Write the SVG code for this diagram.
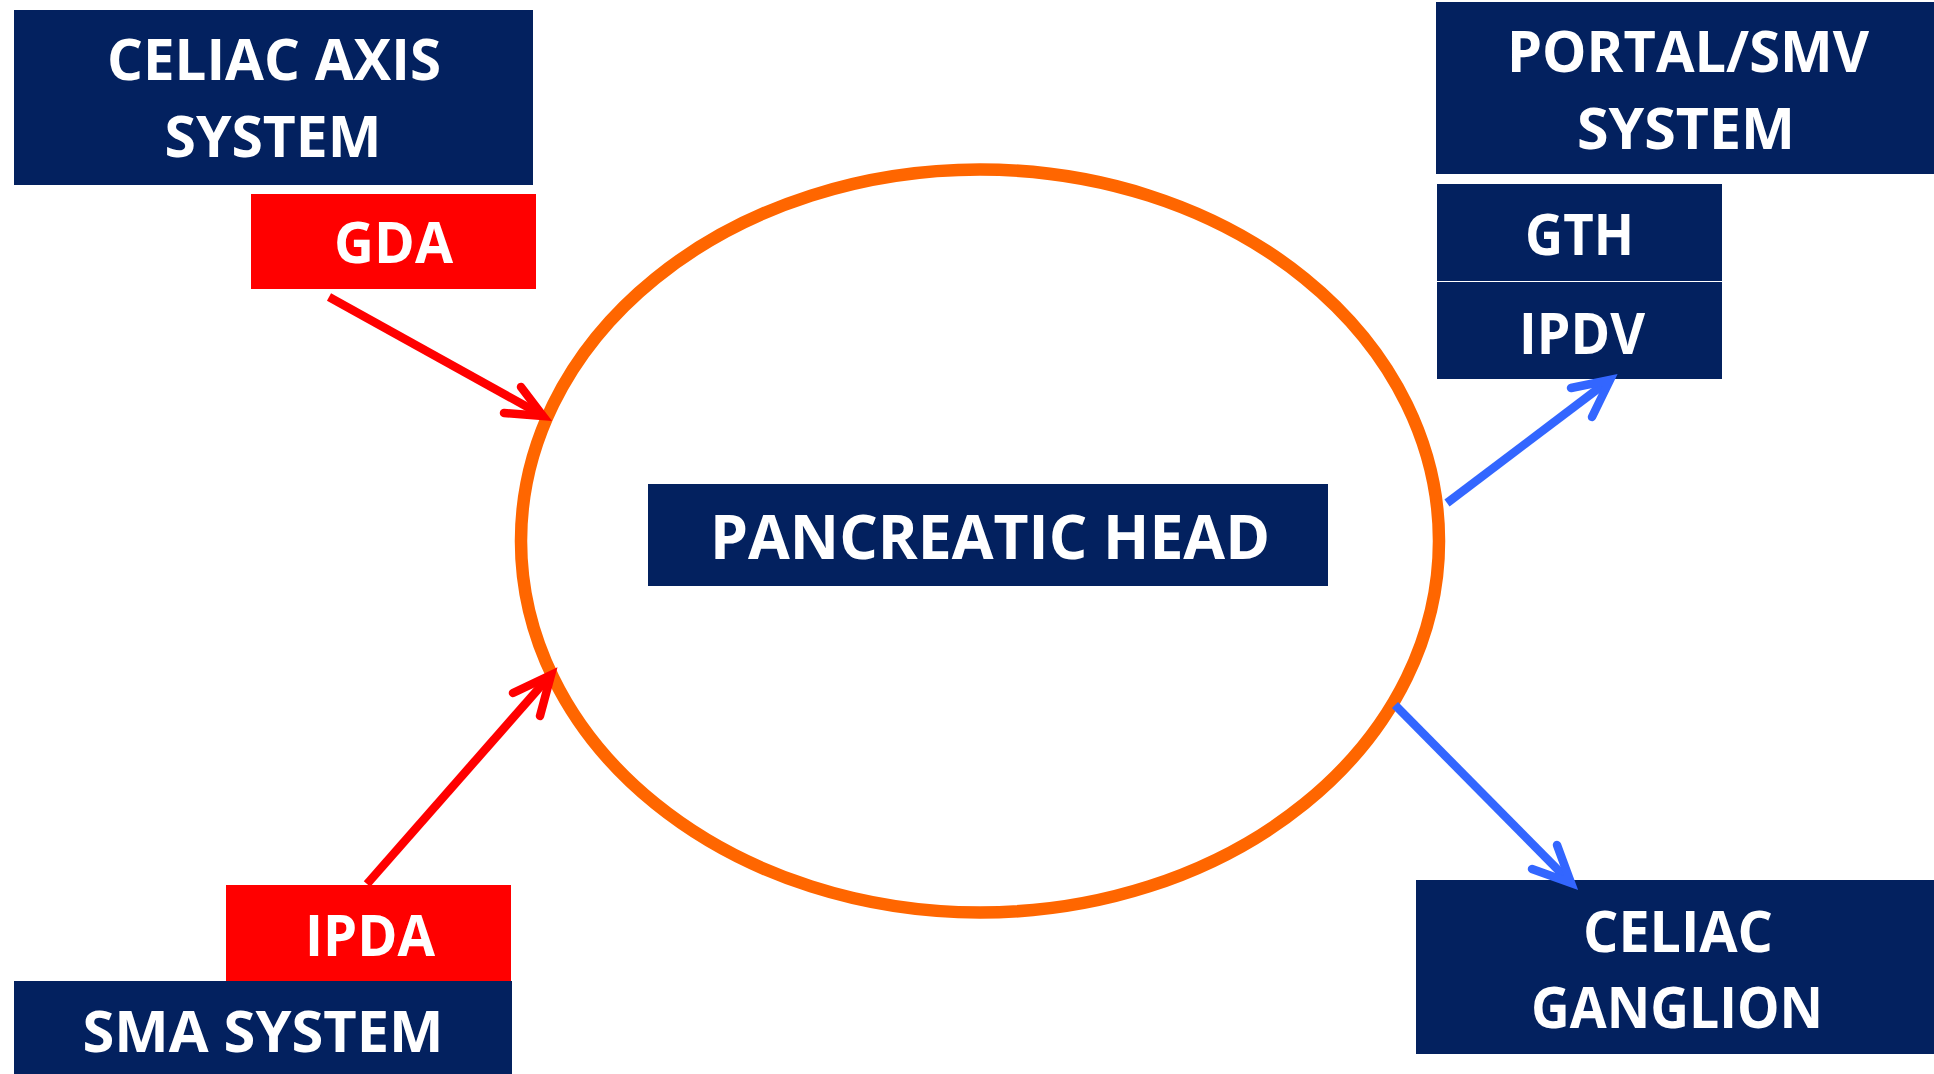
<svg xmlns="http://www.w3.org/2000/svg" width="1934" height="1074" viewBox="0 0 1934 1074">
<style>
.navy{fill:#03215F}
.red{fill:#FF0000}
.t{fill:#FFFFFF;font-family:"Open Sans","Liberation Sans",sans-serif;font-weight:700;font-size:58px;text-anchor:middle}
.big{font-size:61px}
.shaft{fill:none;stroke-width:8.5;stroke-linecap:butt}
.head{fill:none;stroke-width:8.5;stroke-linecap:round;stroke-linejoin:miter;stroke-miterlimit:10}
.r{stroke:#FF0000}
.b{stroke:#3366FF}
</style>
<rect width="1934" height="1074" fill="#FFFFFF"/>
<g id="pancreas">
<ellipse cx="980" cy="541" rx="459" ry="371.5" fill="none" stroke="#FF6600" stroke-width="12.5"/>
<rect class="navy" x="648" y="484" width="680" height="102"/>
<text class="t big" x="990" y="559" textLength="560" lengthAdjust="spacingAndGlyphs">PANCREATIC HEAD</text>
</g>
<g id="celiac-axis">
<rect class="navy" x="14" y="10" width="519" height="175"/>
<text class="t" x="274" y="80" textLength="334" lengthAdjust="spacingAndGlyphs">CELIAC AXIS</text>
<text class="t" x="273" y="157" textLength="217" lengthAdjust="spacingAndGlyphs">SYSTEM</text>
</g>
<g id="gda">
<rect class="red" x="251" y="194" width="285" height="95"/>
<text class="t" x="393.5" y="263" textLength="119" lengthAdjust="spacingAndGlyphs">GDA</text>
</g>
<g id="portal">
<rect class="navy" x="1436" y="2" width="498" height="172"/>
<text class="t" x="1688" y="72" textLength="362" lengthAdjust="spacingAndGlyphs">PORTAL/SMV</text>
<text class="t" x="1686" y="149" textLength="218" lengthAdjust="spacingAndGlyphs">SYSTEM</text>
</g>
<g id="gth">
<rect class="navy" x="1437" y="184" width="285" height="97"/>
<text class="t" x="1579.5" y="255" textLength="109" lengthAdjust="spacingAndGlyphs">GTH</text>
</g>
<g id="ipdv">
<rect class="navy" x="1437" y="282" width="285" height="97"/>
<text class="t" x="1582" y="354" textLength="126" lengthAdjust="spacingAndGlyphs">IPDV</text>
</g>
<g id="ipda">
<rect class="red" x="226" y="885" width="285" height="97"/>
<text class="t" x="370" y="956" textLength="130" lengthAdjust="spacingAndGlyphs">IPDA</text>
</g>
<g id="sma">
<rect class="navy" x="14" y="981" width="498" height="93"/>
<text class="t" x="263" y="1052" textLength="361" lengthAdjust="spacingAndGlyphs">SMA SYSTEM</text>
</g>
<g id="celiac-ganglion">
<rect class="navy" x="1416" y="880" width="518" height="174"/>
<text class="t" x="1678" y="952" textLength="190" lengthAdjust="spacingAndGlyphs">CELIAC</text>
<text class="t" x="1677" y="1028" textLength="292" lengthAdjust="spacingAndGlyphs">GANGLION</text>
</g>
<g id="connectors">
<line class="shaft r" x1="329" y1="297" x2="540" y2="414"/>
<polyline class="head r" points="521,387 543,416 504,413"/>
<line class="shaft r" x1="367" y1="884" x2="548" y2="678"/>
<polyline class="head r" points="513,693 551,675 540,716"/>
<line class="shaft b" x1="1447" y1="503" x2="1607" y2="382"/>
<polyline class="head b" points="1571,388 1610,380 1592,417"/>
<line class="shaft b" x1="1395" y1="705" x2="1568" y2="880"/>
<polyline class="head b" points="1532,869 1571,883 1557,845"/>
</g>
</svg>
